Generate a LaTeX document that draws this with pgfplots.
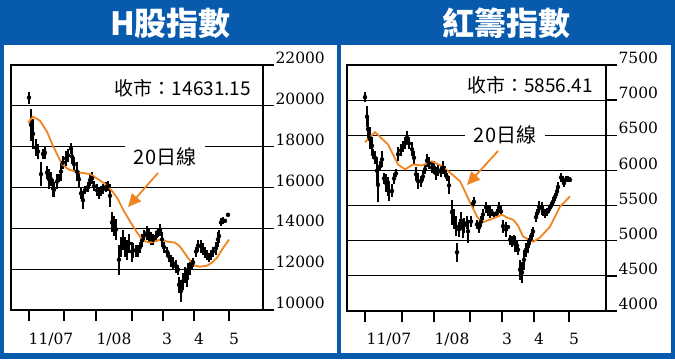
\documentclass[border=0pt]{standalone}
\usepackage{pgfplots}
\pgfplotsset{compat=1.18}
\usepackage{pgfplotstable}
\usetikzlibrary{arrows.meta}
\usepackage{fontspec}
\setmainfont{DejaVu Serif}
\newfontfamily\cjk{Noto Sans CJK TC}
\newfontfamily\tickfont{DejaVu Serif}
\definecolor{hblue}{RGB}{8,90,172}
\definecolor{maorange}{RGB}{240,132,32}

% Left: H-share index, daily low / high
\pgfplotstableread{
x lo hi
29 20110 20700
31 18280 19860
33 17890 19370
36 17540 18380
38 17400 18130
41 16060 17250
43 17400 17890
45 17400 17990
47 16410 17050
49 15920 16900
51 16060 16750
53 15520 16410
54 15520 16260
57 15920 16660
59 16260 16660
61 16310 17250
63 16900 17540
66 17050 17790
68 17250 17890
71 17640 18180
72 17150 17890
74 16800 17490
77 16310 17250
79 16010 16800
81 15420 16010
83 14930 15820
85 15670 16060
88 15770 16260
90 16060 16660
92 16160 16750
94 15820 16310
97 15570 16160
99 15420 16010
101 15570 16060
103 15670 16160
106 15770 16260
108 15820 16310
110 15030 16160
112 13800 14780
114 13600 14590
116 13450 14440
119 11730 13200
121 12610 13600
123 12960 13940
125 12610 13600
127 12470 13450
129 12810 13700
132 12370 13350
133 12560 13300
136 12610 13200
138 12610 13200
140 12810 13350
142 13110 13700
144 13350 13940
147 13450 14090
149 13350 14040
151 13200 13800
153 13200 13700
156 13350 13850
158 13600 14040
160 13600 14190
162 13110 13800
164 12810 13350
167 12610 13110
169 12370 12860
171 12120 12710
173 11970 12610
176 11820 12470
178 11730 12220
179 10840 11630
181 10390 11480
183 10990 11820
185 11330 12120
187 11130 11970
188 11630 12320
190 11730 12370
192 11970 12470
193 12120 12560
196 12610 13110
198 12860 13450
201 12810 13450
203 12710 13300
205 12560 13110
207 12470 12960
209 12370 12810
211 12470 12960
213 12610 13110
216 12710 13350
218 13110 13800
219 13300 13940
221 14090 14490
223 14190 14540
225 14290 14440
228 14590 14730
}\hbars

\pgfplotstableread{
x ma
28 19170
33 19470
40 19270
47 18730
53 18040
58 17540
62 17150
68 16900
77 16750
90 16660
98 16410
107 16110
113 15770
118 15420
123 14930
130 14340
137 13800
143 13400
150 13300
157 13400
162 13450
167 13350
175 13300
180 13110
185 12760
190 12420
195 12170
200 12120
207 12170
212 12320
217 12560
222 12960
229 13450
}\hma

% Right: Red-chip index, daily low / high
\pgfplotstableread{
x lo hi
365 6970 7115
367 6615 6915
368 6415 6760
370 6300 6615
372 6230 6470
373 6160 6300
375 6090 6270
377 5800 6190
378 5545 6045
380 5985 6130
382 6045 6270
384 5800 5970
386 5700 5945
388 5630 5900
389 5560 5845
392 5615 5800
394 5800 5970
396 5900 6015
398 6130 6330
401 6200 6370
403 6260 6415
405 6300 6470
407 6370 6560
409 6300 6470
412 6200 6400
414 6090 6270
416 5845 6045
418 5730 5970
421 5770 5915
423 5845 5985
425 5945 6090
427 6045 6230
429 6015 6190
432 5970 6115
434 5945 6130
436 5870 6045
438 5915 6090
441 5900 6060
443 5945 6130
445 5900 6060
447 5845 5970
449 5660 5915
452 5230 5585
454 5160 5445
456 5060 5345
457 4700 4970
459 5060 5260
461 5160 5415
463 5045 5300
464 5115 5330
467 5160 5345
468 4970 5300
471 5200 5345
473 5470 5585
474 5490 5615
477 5160 5300
479 5115 5260
481 5200 5345
483 5300 5445
486 5400 5545
488 5345 5515
490 5330 5490
492 5345 5445
494 5330 5415
497 5345 5445
499 5400 5545
501 5345 5490
503 5115 5300
506 5060 5260
508 5160 5230
510 4945 5085
512 4915 5060
514 4970 5085
515 4845 5060
517 4845 5015
518 4800 4945
520 4445 4730
522 4400 4700
524 4585 4870
526 4770 4970
528 4830 5015
530 4945 5085
532 5015 5160
533 5060 5200
536 5270 5400
537 5330 5445
539 5400 5560
542 5370 5545
543 5345 5490
545 5330 5445
547 5345 5470
549 5400 5490
551 5445 5545
553 5490 5615
555 5560 5685
557 5630 5770
558 5700 5830
561 5830 5970
563 5800 5915
564 5770 5870
566 5830 5915
568 5830 5915
570 5830 5900
}\rbars

\pgfplotstableread{
x ma
365 6400
375 6545
388 6370
398 6085
405 6015
413 6085
422 6070
432 6130
442 6060
452 5945
460 5845
465 5700
470 5545
477 5345
482 5260
490 5300
498 5345
502 5370
507 5330
513 5300
518 5215
523 5060
533 4985
540 5045
550 5200
560 5485
570 5630
}\rma

\pgfplotsset{
  panel/.style={
    scale only axis, anchor=south west,
    axis line style={line width=1.4pt, black},
    ymajorgrids, grid style={black, line width=1.2pt},
    tick align=outside,
    major tick length=11pt,
    tick style={black, line width=1.3pt},
    ytick pos=right, yticklabel pos=right,
    xtick pos=bottom,
    xticklabels={},
    scaled y ticks=false,
    /pgf/number format/1000 sep={},
    /pgf/number format/assume math mode=true,
    tick label style={font=\tickfont\fontsize{15.5}{15.5}\selectfont},
    yticklabel style={anchor=west, xshift=-2pt, yshift=7pt},
    extra x tick style={major tick length=0pt, xticklabel style={anchor=base, yshift=-34pt}},
    clip=false,
  },
  bars/.style={only marks, mark=none, black,
    error bars/.cd, y dir=both, y explicit,
    error bar style={line width=2.6pt, black, solid}, error mark=none},
  maline/.style={maorange, line width=1.8pt, mark=none},
}

\begin{document}
\begin{tikzpicture}[x=1pt,y=1pt]
\useasboundingbox (0,0) rectangle (675,359);
\fill[hblue] (0,0) rectangle (675,359);
\fill[white] (4,6) rectangle (337,314);
\fill[white] (341,6) rectangle (671,314);

\node[text=white, font=\cjk\bfseries\fontsize{32}{32}\selectfont] at (170.5,335.5) {H股指數};
\node[text=white, font=\cjk\bfseries\fontsize{32}{32}\selectfont] at (506,335.5) {紅籌指數};

\begin{axis}[panel,
  at={(11pt,49pt)}, width=252pt, height=245pt,
  xmin=11, xmax=263, ymin=10000, ymax=22000,
  ytick={10000,12000,14000,16000,18000,20000,22000},
  yticklabels={10000,12000,14000,16000,18000,20000,22000},
  xtick={29,64,96,132,163,194,229},
  extra x ticks={51,114,167,199,234},
  extra x tick labels={11/07,1/08,3,4,5},
]
\addplot[bars] table[x=x, y expr=(\thisrow{lo}+\thisrow{hi})/2,
  y error plus expr=(\thisrow{hi}-\thisrow{lo})/2,
  y error minus expr=(\thisrow{hi}-\thisrow{lo})/2] {\hbars};
\addplot[maline] table[x=x, y=ma] {\hma};
\end{axis}

\begin{axis}[panel,
  at={(347pt,48pt)}, width=259pt, height=246pt,
  xmin=347, xmax=606, ymin=4000, ymax=7500,
  ytick={4000,4500,5000,5500,6000,6500,7000,7500},
  yticklabels={4000,4500,5000,5500,6000,6500,7000,7500},
  xtick={365,402,434,470,502,534,569},
  extra x ticks={389,452,507,539,574},
  extra x tick labels={11/07,1/08,3,4,5},
]
\addplot[bars] table[x=x, y expr=(\thisrow{lo}+\thisrow{hi})/2,
  y error plus expr=(\thisrow{hi}-\thisrow{lo})/2,
  y error minus expr=(\thisrow{hi}-\thisrow{lo})/2] {\rbars};
\addplot[maline] table[x=x, y=ma] {\rma};
\end{axis}

% labels
\node[font=\cjk\fontsize{19}{19}\selectfont] at (183,271) {收市：14631.15};
\node[font=\cjk\fontsize{19}{19}\selectfont] at (530,274) {收市：5856.41};

\fill[white] (125,206) rectangle (205,218);
\node[font=\cjk\fontsize{20}{20}\selectfont] at (165,202) {20日線};
\fill[white] (465,217) rectangle (545,229);
\node[font=\cjk\fontsize{20}{20}\selectfont] at (505,224) {20日線};

\draw[maorange, line width=1.8pt, -{Triangle[length=13pt,width=12pt]}] (158,186) -- (128,152);
\draw[maorange, line width=1.8pt, -{Triangle[length=13pt,width=12pt]}] (498,208) -- (467,174);
\end{tikzpicture}
\end{document}
